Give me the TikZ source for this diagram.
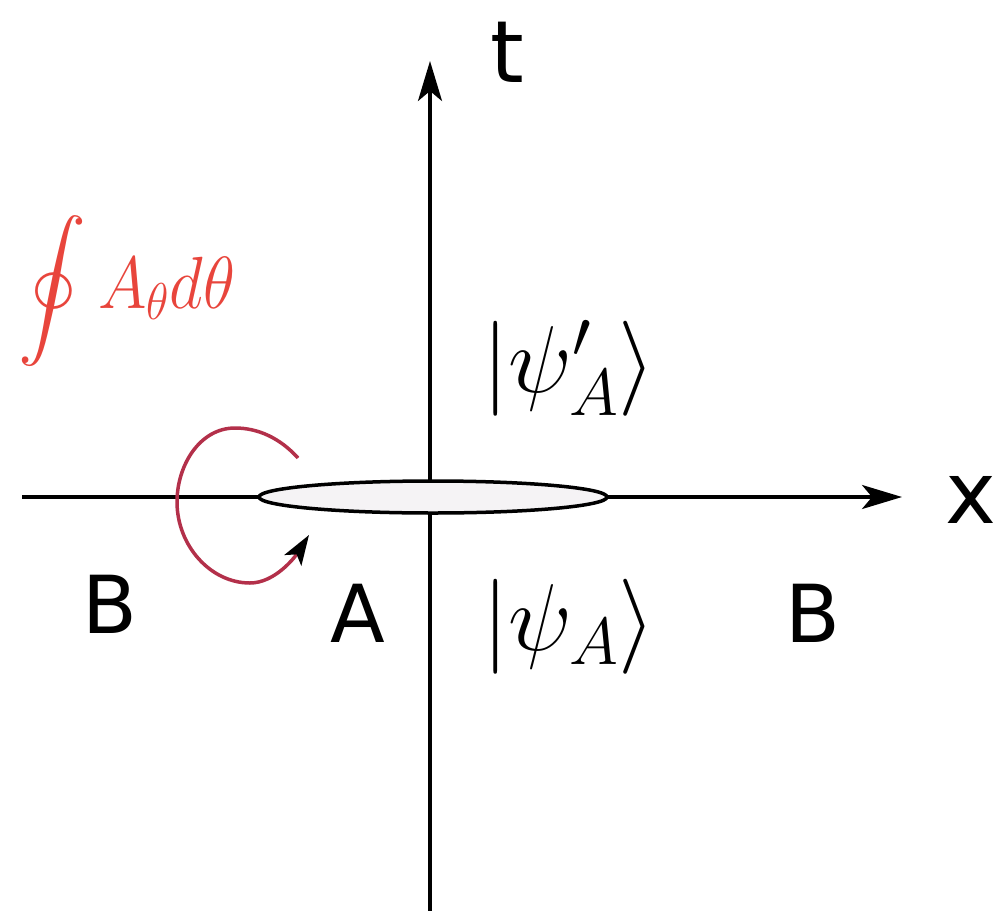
\RequirePackage{fix-cm}
\documentclass[tikz,border=0pt]{standalone}
\usepackage{graphicx}
\usepackage{fontspec}
\newfontfamily\lblfont{DejaVu Sans}
\usetikzlibrary{arrows.meta,shapes.geometric}
\definecolor{intred}{HTML}{E8453C}
\definecolor{loopred}{HTML}{B3304A}
\definecolor{cutfill}{HTML}{F5F3F5}
\newcommand{\bigoint}{\scalebox{6.8}{\fontsize{10}{12}\selectfont$\displaystyle\oint$}}
\begin{document}
\begin{tikzpicture}[x=1pt,y=-1pt,
axis/.style={line width=3.3pt,-{Stealth[length=40pt,width=24pt,inset=10pt]}},
lbl/.style={anchor=base,inner sep=0pt,font=\lblfont\fontsize{80}{90}\selectfont},
axlbl/.style={lbl,font=\lblfont\fontsize{86}{100}\selectfont},
ket/.style={anchor=base west,inner sep=0pt,font=\fontsize{95}{110}\selectfont}]
\useasboundingbox(0,0)rectangle(998,910);
\coordinate(xl)at(22,497);\coordinate(xr)at(902,497);
\coordinate(tb)at(430,912);\coordinate(tt)at(430,61);
\draw[axis](xl)--(xr);
\draw[axis](tb)--(tt);
\node[ellipse,draw,line width=3.5pt,fill=cutfill,minimum width=348pt,minimum height=32pt,inner sep=0pt](cut)at(433,497){};
\node[axlbl](tlab)at(507,82){t};
\node[axlbl,anchor=base east](xlab)at(997,523){x};
\node[lbl](bleft)at(110,633){B};
\node[lbl](alab)at(358,642){A};
\node[lbl](bright)at(813,642){B};
\node[ket](psip)at(482,392){$|\psi'_A\rangle$};
\node[ket](psi)at(482,650){$|\psi_A\rangle$};
\node[anchor=base west,inner sep=0pt,text=intred,font=\fontsize{66}{80}\selectfont](hol)at(18,308){\bigoint\hspace{12pt}\scalebox{1}[1.12]{$A_\theta d\theta$}};
\coordinate(ls)at(298,458);\coordinate(le)at(309,535);
\draw[loopred,line width=3.5pt,-{Stealth[black,length=30pt,width=20pt,inset=7pt]}](ls)
..controls(280,438)and(258,428)..(235,428)
..controls(200,428)and(177,465)..(177,502)
..controls(177,545)and(210,583)..(250,583)
..controls(275,583)and(295,557)..(le);
\end{tikzpicture}
\end{document}
